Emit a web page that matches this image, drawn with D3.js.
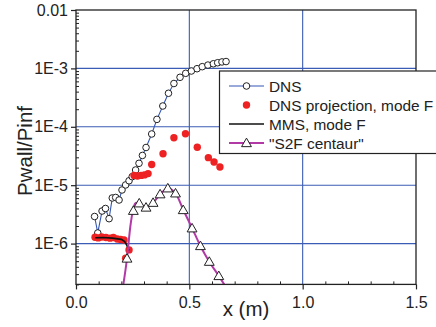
<!DOCTYPE html>
<html>
<head>
<meta charset="utf-8">
<script src="https://cdn.jsdelivr.net/npm/d3@7"></script>
<style>
  html, body { margin: 0; padding: 0; background: #fff; }
  svg { display: block; font-family: "Liberation Sans", Arial, sans-serif; }
</style>
</head>
<body>
<svg id="chart" width="436" height="327"></svg>
<script>
// DNS wall pressure (open circles joined by a blue line)
const dnsX = [0.082, 0.096, 0.115, 0.130, 0.146, 0.160, 0.175, 0.190, 0.203, 0.219,
              0.234, 0.248, 0.263, 0.278, 0.293, 0.309, 0.334, 0.357, 0.383, 0.408,
              0.432, 0.459, 0.484, 0.509, 0.534, 0.557, 0.582, 0.606, 0.625, 0.644, 0.662];
const dnsY = [2.91e-6, 1.52e-6, 3.61e-6, 3.99e-6, 2.67e-6, 6.04e-6, 6.16e-6, 5.58e-6, 8.28e-6, 1.01e-5,
              1.19e-5, 1.40e-5, 1.82e-5, 2.37e-5, 3.23e-5, 4.42e-5, 7.53e-5, 1.34e-4, 2.27e-4, 3.75e-4,
              5.51e-4, 7.04e-4, 8.24e-4, 9.02e-4, 9.88e-4, 1.07e-3, 1.14e-3, 1.20e-3, 1.25e-3, 1.29e-3, 1.31e-3];

// DNS projection onto mode F (red dots)
const projX = [0.084, 0.098, 0.113, 0.132, 0.150, 0.165, 0.182, 0.197, 0.212, 0.219, 0.234,
               0.256, 0.271, 0.287, 0.302, 0.318, 0.334, 0.384, 0.432, 0.483, 0.535, 0.584, 0.609, 0.635];
const projY = [1.28e-6, 1.25e-6, 1.30e-6, 1.27e-6, 1.24e-6, 1.27e-6, 1.20e-6, 1.18e-6, 1.15e-6, 5.6e-7, 7.8e-7,
               1.47e-5, 1.44e-5, 1.47e-5, 1.50e-5, 1.58e-5, 2.26e-5, 3.45e-5, 6.50e-5, 7.62e-5, 4.46e-5, 2.96e-5, 2.49e-5, 2.05e-5];

// MMS, mode F (black line)
const mmsX = [0.085, 0.12, 0.16, 0.20, 0.215, 0.225, 0.233];
const mmsY = [1.26e-6, 1.27e-6, 1.24e-6, 1.18e-6, 1.08e-6, 9.2e-7, 7.6e-7];

// "S2F centaur" curve (magenta) and its marked stations (triangles)
const s2fLineX = [0.205, 0.225, 0.240, 0.253, 0.265, 0.279, 0.309, 0.340, 0.371, 0.405,
                  0.439, 0.473, 0.512, 0.549, 0.588, 0.630, 0.665];
const s2fLineY = [1.6e-7, 5.6e-7, 2.0e-6, 4.0e-6, 5.0e-6, 4.9e-6, 4.2e-6, 5.0e-6, 7.0e-6, 8.8e-6,
                  7.3e-6, 3.8e-6, 1.85e-6, 9.1e-7, 4.9e-7, 2.8e-7, 1.7e-7];
const s2fX = [0.225, 0.253, 0.279, 0.309, 0.340, 0.371, 0.405, 0.439, 0.473, 0.512, 0.549, 0.588, 0.630];
const s2fY = [5.56e-7, 3.65e-6, 4.90e-6, 4.15e-6, 5.01e-6, 7.01e-6, 8.85e-6, 7.26e-6, 3.76e-6, 1.83e-6, 9.10e-7, 4.90e-7, 2.79e-7];

// Axis ticks
const xTicks = [0.0, 0.5, 1.0, 1.5];
const xTickLabels = ["0.0", "0.5", "1.0", "1.5"];
const yTicks = [0.01, 1e-3, 1e-4, 1e-5, 1e-6];
const yTickLabels = ["0.01", "1E-3", "1E-4", "1E-5", "1E-6"];
const legendLabels = ["DNS", "DNS projection, mode F", "MMS, mode F", "\"S2F centaur\""];

const margin = { left: 76, right: 416, top: 10, bottom: 284.4 };
const svg = d3.select("#chart");

const x = d3.scaleLinear().domain([0, 1.5]).range([margin.left, margin.right]);
const y = d3.scaleLog().domain([2e-7, 0.01]).range([margin.bottom, margin.top]);

const gridColor = "#3a5cb4";
const blue = "#3457b5";
const red = "#ee2222";
const magenta = "#b23aa6";

// clip region for the data
svg.append("defs").append("clipPath").attr("id", "plotClip")
  .append("rect")
  .attr("x", margin.left).attr("y", margin.top)
  .attr("width", margin.right - margin.left).attr("height", margin.bottom - margin.top);

// grid lines
const grid = svg.append("g");
grid.selectAll("line.gx").data([0.5, 1.0]).join("line")
  .attr("x1", d => x(d)).attr("x2", d => x(d))
  .attr("y1", margin.top).attr("y2", margin.bottom)
  .attr("stroke", gridColor).attr("stroke-width", 1.1);
grid.selectAll("line.gy").data([1e-3, 1e-4, 1e-5, 1e-6]).join("line")
  .attr("x1", margin.left).attr("x2", margin.right)
  .attr("y1", d => y(d)).attr("y2", d => y(d))
  .attr("stroke", gridColor).attr("stroke-width", 1.1);

// axes: major ticks pointing out, minor ticks pointing in
const minorY = [];
for (let e = -7; e <= -3; e++) for (let m = 1; m <= 9; m++) {
  const v = m * Math.pow(10, e);
  if (v >= 2e-7 && v <= 0.01 && m !== 1) minorY.push(v);
}
const minorX = d3.range(1, 15).map(i => i / 10).filter(v => xTicks.indexOf(v) < 0);

const yAxis = svg.append("g").attr("transform", `translate(${margin.left},0)`)
  .call(d3.axisLeft(y).tickValues(yTicks).tickFormat((d, i) => yTickLabels[i]).tickSize(5).tickSizeOuter(0).tickPadding(3));
yAxis.select(".domain").remove();
yAxis.selectAll("text").attr("font-size", 16).attr("fill", "#222")
  .attr("font-family", "Liberation Sans, Arial, sans-serif");
yAxis.selectAll("line").attr("stroke", "#222").attr("stroke-width", 1.2);

const yMinor = svg.append("g").attr("transform", `translate(${margin.left},0)`)
  .call(d3.axisRight(y).tickValues(minorY).tickFormat("").tickSize(3).tickSizeOuter(0));
yMinor.select(".domain").remove();
yMinor.selectAll("line").attr("stroke", "#222").attr("stroke-width", 1);

const xAxis = svg.append("g").attr("transform", `translate(0,${margin.bottom})`)
  .call(d3.axisBottom(x).tickValues(xTicks).tickFormat((d, i) => xTickLabels[i]).tickSize(5).tickSizeOuter(0).tickPadding(7));
xAxis.select(".domain").remove();
xAxis.selectAll("text").attr("font-size", 16).attr("fill", "#222")
  .attr("font-family", "Liberation Sans, Arial, sans-serif");
xAxis.selectAll("line").attr("stroke", "#222").attr("stroke-width", 1.2);

const xMinor = svg.append("g").attr("transform", `translate(0,${margin.bottom})`)
  .call(d3.axisTop(x).tickValues(minorX).tickFormat("").tickSize(3).tickSizeOuter(0));
xMinor.select(".domain").remove();
xMinor.selectAll("line").attr("stroke", "#222").attr("stroke-width", 1);

// data layer
const plot = svg.append("g").attr("clip-path", "url(#plotClip)");
const pts = (xs, ys) => xs.map((d, i) => [d, ys[i]]);
const line = d3.line().x(d => x(d[0])).y(d => y(d[1]));

const dns = pts(dnsX, dnsY);
plot.append("path").attr("d", line(dns)).attr("fill", "none")
  .attr("stroke", blue).attr("stroke-width", 1.1);
plot.selectAll("circle.dns").data(dns).join("circle")
  .attr("cx", d => x(d[0])).attr("cy", d => y(d[1])).attr("r", 3.3)
  .attr("fill", "#fff").attr("stroke", "#222").attr("stroke-width", 1);

const proj = pts(projX, projY);
plot.selectAll("circle.proj").data(proj).join("circle")
  .attr("cx", d => x(d[0])).attr("cy", d => y(d[1])).attr("r", 3.7)
  .attr("fill", red);

plot.append("path").attr("d", line(pts(mmsX, mmsY))).attr("fill", "none")
  .attr("stroke", "#111").attr("stroke-width", 1.6);

plot.append("path").attr("d", line.curve(d3.curveMonotoneX)(pts(s2fLineX, s2fLineY)))
  .attr("fill", "none").attr("stroke", magenta).attr("stroke-width", 2);
line.curve(d3.curveLinear);

const tri = d3.symbol().type(d3.symbolTriangle).size(42);
plot.selectAll("path.s2f").data(pts(s2fX, s2fY)).join("path")
  .attr("d", tri)
  .attr("transform", d => `translate(${x(d[0])},${y(d[1]) + 0.8})`)
  .attr("fill", "#fff").attr("stroke", "#222").attr("stroke-width", 1);

// plot frame
svg.append("rect")
  .attr("x", margin.left).attr("y", margin.top)
  .attr("width", margin.right - margin.left).attr("height", margin.bottom - margin.top)
  .attr("fill", "none").attr("stroke", "#222").attr("stroke-width", 1.3);

// axis titles
svg.append("text").attr("x", 246).attr("y", 315.5).attr("text-anchor", "middle")
  .attr("font-size", 20.5).attr("fill", "#222").text("x (m)");
svg.append("text").attr("transform", "translate(31.5,151) rotate(-90)").attr("text-anchor", "middle")
  .attr("font-size", 20.5).attr("fill", "#222").text("Pwall/Pinf");

// legend
const lg = svg.append("g");
lg.append("rect").attr("x", 219.5).attr("y", 71).attr("width", 230).attr("height", 82.5)
  .attr("fill", "#fff").attr("stroke", "#222").attr("stroke-width", 1.2);
const rowY = [86, 105, 124, 143];
const sx0 = 229, sx1 = 264, sxm = 246.5;
// DNS
lg.append("line").attr("x1", sx0).attr("x2", sx1).attr("y1", rowY[0]).attr("y2", rowY[0])
  .attr("stroke", blue).attr("stroke-width", 1.1);
lg.append("circle").attr("cx", sxm).attr("cy", rowY[0]).attr("r", 3.3)
  .attr("fill", "#fff").attr("stroke", "#222");
// projection
lg.append("circle").attr("cx", sxm).attr("cy", rowY[1]).attr("r", 3.7).attr("fill", red);
// MMS
lg.append("line").attr("x1", sx0).attr("x2", sx1).attr("y1", rowY[2]).attr("y2", rowY[2])
  .attr("stroke", "#111").attr("stroke-width", 1.6);
// S2F
lg.append("line").attr("x1", sx0).attr("x2", sx1).attr("y1", rowY[3]).attr("y2", rowY[3])
  .attr("stroke", magenta).attr("stroke-width", 2);
lg.append("path").attr("d", tri).attr("transform", `translate(${sxm},${rowY[3] + 0.8})`)
  .attr("fill", "#fff").attr("stroke", "#222");
lg.selectAll("text").data(legendLabels).join("text")
  .attr("x", 269).attr("y", (d, i) => rowY[i] + 5.5)
  .attr("font-size", 15.4).attr("fill", "#222").text(d => d);
</script>
</body>
</html>
